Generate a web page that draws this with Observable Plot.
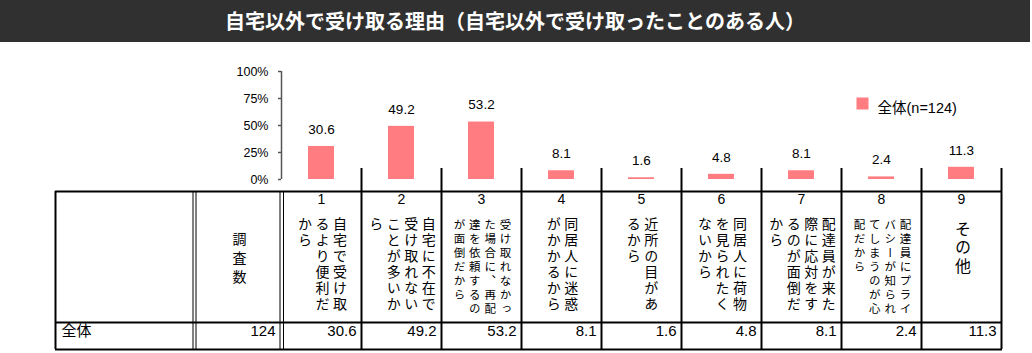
<!DOCTYPE html>
<html><head><meta charset="utf-8">
<script src="https://cdn.jsdelivr.net/npm/d3@7"></script>
<script src="https://cdn.jsdelivr.net/npm/@observablehq/plot@0.6"></script>
<style>
body{margin:0;background:#fff;}
#title{position:absolute;left:0;top:0;width:1030px;height:42px;background:#303030;color:#fff;font-family:"Noto Sans CJK JP",sans-serif;font-weight:bold;font-size:20px;text-align:center;line-height:42px;}
#chart{position:absolute;left:0;top:42px;}
</style></head><body>
<div id="title">自宅以外で受け取る理由（自宅以外で受け取ったことのある人）</div>
<div id="chart"></div>
<script>
// ---- data ----
const categories = ["1","2","3","4","5","6","7","8","9"];
const reasons = [
  "自宅で受け取\nるより便利だ\nから",
  "自宅に不在で\n受け取れない\nことが多いか\nら",
  "受け取れなかっ\nた場合に、再配\n達を依頼するの\nが面倒だから",
  "同居人に迷惑\nがかかるから",
  "近所の目があ\nるから",
  "同居人に荷物\nを見られたく\nないから",
  "配達員が来た\n際に応対をす\nるのが面倒だ\nから",
  "配達員にプライ\nバシーが知られ\nてしまうのが心\n配だから",
  "その他"
];
const values = [30.6, 49.2, 53.2, 8.1, 1.6, 4.8, 8.1, 2.4, 11.3];
const seriesName = "全体";
const sampleSize = 124;
const sampleHeader = "調査数";
const yTicks = [0, 25, 50, 75, 100];

// ---- layout / style ----
const barColor = "#FF7C80";
const W = 1032, H = 311;
const mL = 281, mR = 31, mT = 29, mB = 174;
const band = (W - mL - mR) / categories.length;
const kinds = {
  regular: {fontSize: 14, pitch: 17.5, top: 37, spacing: 2},
  small: {fontSize: 11.5, pitch: 15.3, top: 39.5, spacing: 2.4},
  large: {fontSize: 16, pitch: 20, top: 41, spacing: 2.5},
  header: {spacing: 5}
};

const data = categories.map((c, i) => ({cat: c, value: values[i]}));

const lineRows = [];
reasons.forEach((r, i) => {
  const lines = r.split("\n");
  const maxLen = d3.max(lines, l => l.length);
  const kind = lines.length === 1 ? "large" : maxLen >= 7 ? "small" : "regular";
  const pitch = kinds[kind].pitch;
  lines.forEach((line, j) => lineRows.push({cat: categories[i], line, kind, off: ((lines.length - 1) / 2 - j) * pitch}));
});

const vMarks = d3.groups(lineRows, d => d.kind, d => d.off).flatMap(([kind, byOff]) =>
  byOff.map(([off, rows]) => Plot.text(rows, {
    x: "cat", text: "line", frameAnchor: "bottom", dx: off, dy: kinds[kind].top,
    textAnchor: "start", lineAnchor: "bottom", fontSize: kinds[kind].fontSize, fill: "#000",
    ariaDescription: "vtext-" + kind
  })));

const rowY = 156.5;
const first = [categories[0]];

const chart = Plot.plot({
  width: W, height: H,
  marginLeft: mL, marginRight: mR, marginTop: mT, marginBottom: mB,
  style: {fontFamily: '"Liberation Sans","Noto Sans CJK JP",sans-serif', fontSize: "12.5px", color: "#000", background: "transparent", overflow: "visible"},
  x: {type: "band", domain: categories, padding: 0, axis: null},
  y: {domain: [0, 100], axis: null},
  marks: [
    // y axis
    Plot.ruleX(first, {x: d => d, dx: -band / 2, y1: 0, y2: 100, stroke: "#555", strokeWidth: 1.5}),
    Plot.tickY(yTicks, {y: d => d, frameAnchor: "left", stroke: "#555", strokeWidth: 1.5, insetLeft: -3, insetRight: W - mL - mR}),
    Plot.text(yTicks, {y: d => d, text: d => d + "%", frameAnchor: "left", dx: -13, textAnchor: "end", fontSize: 12.5}),
    // bars
    Plot.barY(data, {x: "cat", y: "value", fill: barColor, insetLeft: 27, insetRight: 27}),
    Plot.text(data, {x: "cat", y: "value", text: d => d.value.toFixed(1), dy: -17, fontSize: 13.5}),
    // legend
    Plot.frame({fill: barColor, stroke: "none", insetLeft: 575, insetRight: 133, insetTop: 26, insetBottom: 70}),
    Plot.text([`${seriesName}(n=${sampleSize})`], {text: d => d, frameAnchor: "top-left", dx: 596, dy: 31, textAnchor: "start", fontSize: 14.5}),
    // table horizontal lines
    Plot.ruleY([0], {dy: 12, insetLeft: -226, insetRight: -1, stroke: "#000", strokeWidth: 2}),
    Plot.ruleY([0], {dy: 143, insetLeft: -226, insetRight: -1, stroke: "#000", strokeWidth: 2}),
    Plot.ruleY([0], {dy: 170, insetLeft: -226, insetRight: -1, stroke: "#000", strokeWidth: 2}),
    // table vertical lines (category separators extend above table)
    Plot.ruleX(categories, {x: d => d, dx: band / 2, insetTop: 97, insetBottom: -170, stroke: "#000", strokeWidth: 2}),
    Plot.ruleX(first, {x: d => d, dx: -band / 2 - 1.5, insetTop: 120, insetBottom: -170, stroke: "#000", strokeWidth: 1}),
    Plot.ruleX(first, {x: d => d, dx: -band / 2 + 2, insetTop: 120, insetBottom: -170, stroke: "#000", strokeWidth: 1}),
    Plot.ruleX(first, {x: d => d, dx: -band / 2 - 88.5, insetTop: 120, insetBottom: -170, stroke: "#000", strokeWidth: 1}),
    Plot.ruleX(first, {x: d => d, dx: -band / 2 - 85.5, insetTop: 120, insetBottom: -170, stroke: "#000", strokeWidth: 1}),
    Plot.ruleX(first, {x: d => d, dx: -band / 2 - 226, insetTop: 120, insetBottom: -170, stroke: "#000", strokeWidth: 2}),
    // header
    Plot.text(categories, {x: d => d, text: d => d, frameAnchor: "bottom", dy: 24, fontSize: 14}),
    ...vMarks,
    Plot.text([sampleHeader], {text: d => d, frameAnchor: "bottom-left", dx: -43, dy: 52, textAnchor: "start", lineAnchor: "bottom", fontSize: 14, ariaDescription: "vtext-header"}),
    // data row
    Plot.text([seriesName], {text: d => d, frameAnchor: "bottom-left", dx: -220, dy: rowY, textAnchor: "start", fontSize: 15}),
    Plot.text([sampleSize], {text: d => String(d), frameAnchor: "bottom-left", dx: -6, dy: rowY, textAnchor: "end", fontSize: 15}),
    Plot.text(data, {x: "cat", text: d => d.value.toFixed(1), frameAnchor: "bottom", dx: band / 2 - 5, dy: rowY, textAnchor: "end", fontSize: 15})
  ]
});

for (const [k, s] of Object.entries(kinds)) {
  d3.select(chart).selectAll(`g[aria-description="vtext-${k}"] text`)
    .attr("writing-mode", "vertical-rl")
    .style("writing-mode", "vertical-rl")
    .style("letter-spacing", s.spacing + "px")
    .attr("y", null);
}
document.getElementById("chart").appendChild(chart);
</script>
</body></html>
